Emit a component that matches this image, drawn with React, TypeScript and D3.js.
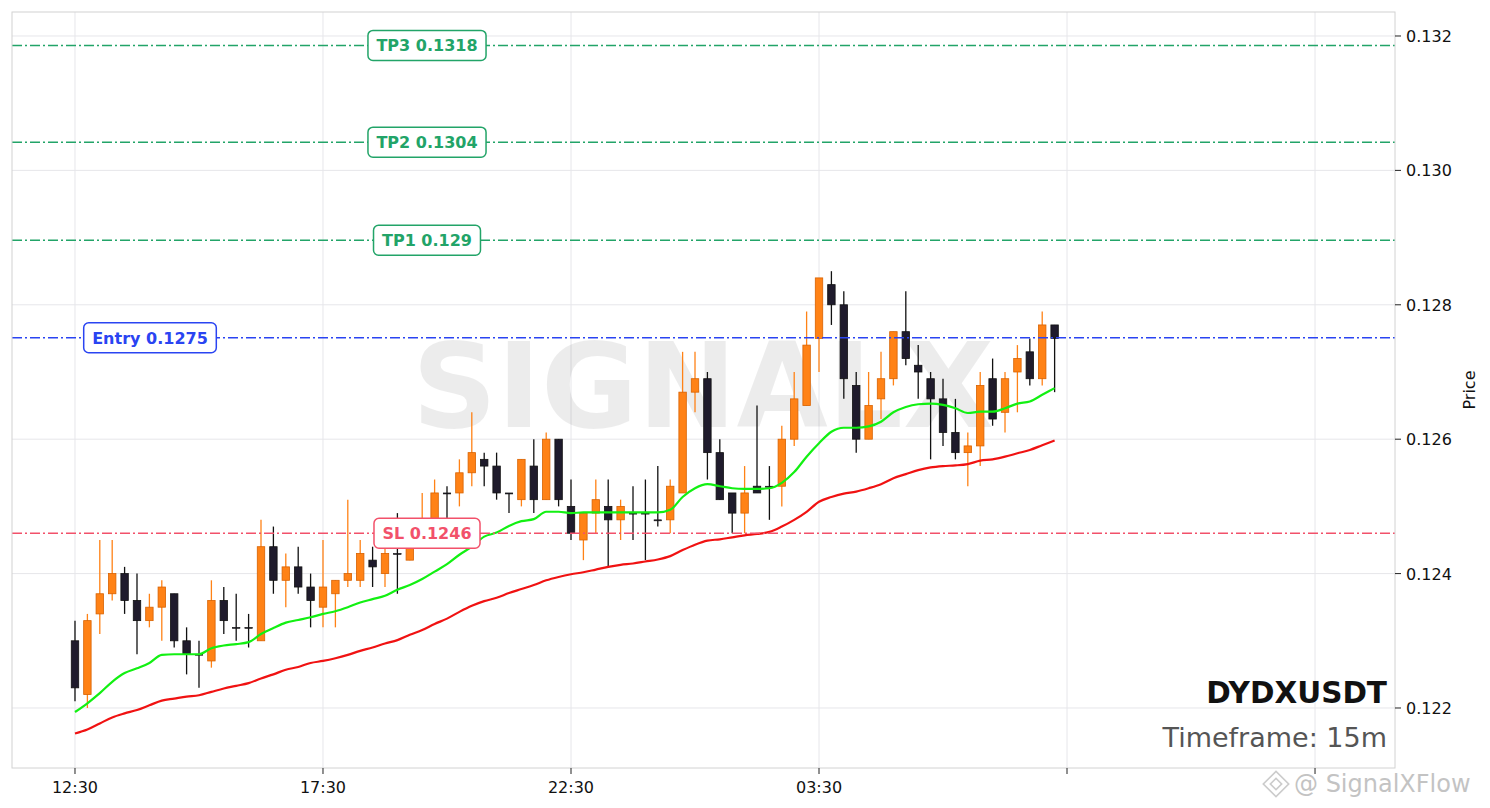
import React from 'react'
import * as d3 from 'd3'

const W = 1490
const H = 808
const plot = { left: 12, right: 1395, top: 12, bottom: 768 }

// 15m candles, 12:30 onwards
const opens = [
  0.1230, 0.1222, 0.1234, 0.1237, 0.1240, 0.1236, 0.1233, 0.1235, 0.1237, 0.1230,
  0.1228, 0.1227, 0.1236, 0.1232, 0.1232, 0.1230, 0.1244, 0.1239, 0.1241, 0.1238,
  0.1235, 0.1237, 0.1239, 0.1239, 0.1242, 0.1240, 0.1243, 0.1242, 0.1245, 0.1247,
  0.1252, 0.1252, 0.1255, 0.1257, 0.1256, 0.1252, 0.1251, 0.1256, 0.1251, 0.1260,
  0.1250, 0.1245, 0.1249, 0.1250, 0.1248, 0.1249, 0.1249, 0.1248, 0.1248, 0.1252,
  0.1267, 0.1269, 0.1258, 0.1252, 0.1249, 0.1253, 0.1253, 0.1253, 0.1260, 0.1265,
  0.1275, 0.1283, 0.1280, 0.1268, 0.1260, 0.1266, 0.1269, 0.1276, 0.1271, 0.1269,
  0.1266, 0.1261, 0.1258, 0.1259, 0.1269, 0.1264, 0.1270, 0.1273, 0.1269, 0.1277,
]
const highs = [
  0.1233, 0.1234, 0.1245, 0.1245, 0.1241, 0.1240, 0.1237, 0.1239, 0.1237, 0.1232,
  0.1230, 0.1239, 0.1238, 0.1237, 0.1234, 0.1248, 0.1247, 0.1243, 0.1244, 0.1240,
  0.1245, 0.1239, 0.1251, 0.1245, 0.1244, 0.1244, 0.1249, 0.1246, 0.1252, 0.1254,
  0.1253, 0.1257, 0.1264, 0.1258, 0.1258, 0.1252, 0.1257, 0.1260, 0.1261, 0.1260,
  0.1254, 0.1249, 0.1254, 0.1254, 0.1251, 0.1253, 0.1254, 0.1256, 0.1254, 0.1273,
  0.1273, 0.1270, 0.1260, 0.1252, 0.1256, 0.1265, 0.1256, 0.1262, 0.1270, 0.1279,
  0.1284, 0.1285, 0.1282, 0.1270, 0.1270, 0.1273, 0.1276, 0.1282, 0.1274, 0.1270,
  0.1269, 0.1266, 0.1261, 0.1270, 0.1272, 0.1270, 0.1274, 0.1275, 0.1279, 0.1277,
]
const lows = [
  0.1221, 0.1220, 0.1231, 0.1236, 0.1234, 0.1228, 0.1232, 0.1230, 0.1229, 0.1225,
  0.1223, 0.1226, 0.1231, 0.1230, 0.1229, 0.1230, 0.1237, 0.1235, 0.1237, 0.1232,
  0.1232, 0.1232, 0.1238, 0.1238, 0.1238, 0.1238, 0.1237, 0.1242, 0.1244, 0.1246,
  0.1248, 0.1250, 0.1253, 0.1253, 0.1251, 0.1249, 0.1250, 0.1249, 0.1251, 0.1250,
  0.1245, 0.1242, 0.1246, 0.1241, 0.1245, 0.1245, 0.1242, 0.1247, 0.1246, 0.1252,
  0.1264, 0.1254, 0.1251, 0.1246, 0.1246, 0.1252, 0.1248, 0.1250, 0.1259, 0.1265,
  0.1270, 0.1277, 0.1266, 0.1258, 0.1260, 0.1263, 0.1268, 0.1271, 0.1266, 0.1257,
  0.1259, 0.1257, 0.1253, 0.1256, 0.1262, 0.1261, 0.1264, 0.1268, 0.1268, 0.1267,
]
const closes = [
  0.1223, 0.1233, 0.1237, 0.1240, 0.1236, 0.1233, 0.1235, 0.1238, 0.1230, 0.1228,
  0.1228, 0.1236, 0.1233, 0.1232, 0.1232, 0.1244, 0.1239, 0.1241, 0.1238, 0.1236,
  0.1238, 0.1239, 0.1240, 0.1243, 0.1241, 0.1243, 0.1243, 0.1244, 0.1247, 0.1252,
  0.1252, 0.1255, 0.1258, 0.1256, 0.1252, 0.1252, 0.1257, 0.1251, 0.1260, 0.1251,
  0.1246, 0.1249, 0.1251, 0.1248, 0.1250, 0.1249, 0.1249, 0.1248, 0.1253, 0.1267,
  0.1269, 0.1258, 0.1251, 0.1249, 0.1252, 0.1252, 0.1253, 0.1260, 0.1266, 0.1274,
  0.1284, 0.1280, 0.1269, 0.1260, 0.1265, 0.1269, 0.1276, 0.1272, 0.1270, 0.1266,
  0.1261, 0.1258, 0.1259, 0.1268, 0.1263, 0.1269, 0.1272, 0.1269, 0.1277, 0.1275,
]
const emaFast = [
  0.12194, 0.12207, 0.12222, 0.12239, 0.12252, 0.12259, 0.12267, 0.12279, 0.12280, 0.12280,
  0.12280, 0.12289, 0.12293, 0.12295, 0.12298, 0.12310, 0.12319, 0.12327, 0.12331, 0.12335,
  0.12340, 0.12344, 0.12350, 0.12357, 0.12362, 0.12367, 0.12376, 0.12383, 0.12392, 0.12403,
  0.12414, 0.12428, 0.12440, 0.12455, 0.12461, 0.12471, 0.12478, 0.12481, 0.12492, 0.12492,
  0.12490, 0.12491, 0.12491, 0.12491, 0.12491, 0.12491, 0.12491, 0.12491, 0.12495, 0.12514,
  0.12527, 0.12533, 0.12530, 0.12527, 0.12526, 0.12526, 0.12527, 0.12535, 0.12551, 0.12574,
  0.12594, 0.12611, 0.12617, 0.12617, 0.12619, 0.12626, 0.12640, 0.12648, 0.12652, 0.12653,
  0.12651, 0.12646, 0.12639, 0.12641, 0.12641, 0.12646, 0.12653, 0.12656, 0.12666, 0.12676,
]
const emaSlow = [
  0.12162, 0.12168, 0.12177, 0.12186, 0.12192, 0.12197, 0.12204, 0.12211, 0.12214, 0.12217,
  0.12219, 0.12224, 0.12229, 0.12233, 0.12237, 0.12244, 0.12250, 0.12257, 0.12261, 0.12267,
  0.12270, 0.12274, 0.12279, 0.12285, 0.12290, 0.12296, 0.12301, 0.12309, 0.12316, 0.12325,
  0.12333, 0.12343, 0.12352, 0.12359, 0.12364, 0.12371, 0.12377, 0.12383, 0.12390, 0.12395,
  0.12399, 0.12402, 0.12406, 0.12410, 0.12413, 0.12415, 0.12418, 0.12421, 0.12426, 0.12435,
  0.12443, 0.12449, 0.12451, 0.12454, 0.12457, 0.12459, 0.12462, 0.12470, 0.12480, 0.12492,
  0.12507, 0.12514, 0.12519, 0.12522, 0.12527, 0.12533, 0.12542, 0.12548, 0.12554, 0.12558,
  0.12560, 0.12561, 0.12563, 0.12568, 0.12570, 0.12574, 0.12579, 0.12584, 0.12591, 0.12598,
]

const xTickIdx = [0, 20, 40, 60, 80, 100]
const xTickLabels = ['12:30', '17:30', '22:30', '03:30', '', '']
const yTicks = [0.122, 0.124, 0.126, 0.128, 0.13, 0.132]

const levelValues = [0.13186, 0.13042, 0.12896, 0.12751, 0.1246]
const levelLabels = ['TP3 0.1318', 'TP2 0.1304', 'TP1 0.129', 'Entry 0.1275', 'SL 0.1246']
const levelColors = ['#22a468', '#22a468', '#22a468', '#2a44f2', '#f2516a']

const symbol = 'DYDXUSDT'
const timeframe = 'Timeframe: 15m'

const FONT = 'DejaVu Sans, sans-serif'

let ctx: CanvasRenderingContext2D | null = null
const textWidth = (t: string, font: string) => {
  if (!ctx) ctx = document.createElement('canvas').getContext('2d')
  if (!ctx) return t.length * 9
  ctx.font = font
  return ctx.measureText(t).width
}

export default function App() {
  const x = d3.scaleLinear().domain([-5.08, 106.45]).range([plot.left, plot.right])
  const y = d3.scaleLinear().domain([0.121107, 0.132357]).range([plot.bottom, plot.top])
  const bw = (x(1) - x(0)) * 0.6

  const line = d3
    .line<number>()
    .x((_, i) => x(i))
    .y((d) => y(d))
    .curve(d3.curveMonotoneX)

  const up = '#ff8216'
  const upEdge = '#d86200'
  const down = '#1f1b2c'

  // label anchors: TP/SL centered, entry further left
  const labelCx = [427, 427, 427, 150, 427]

  return (
    <svg
      width={W}
      height={H}
      style={{ position: 'absolute', left: 0, top: 0, fontFamily: FONT }}
    >
      <rect width={W} height={H} fill="#fff" />
      <defs>
        <clipPath id="plotclip">
          <rect x={plot.left} y={plot.top} width={plot.right - plot.left} height={plot.bottom - plot.top} />
        </clipPath>
      </defs>

      {/* grid */}
      <g stroke="#e6e6ea" strokeWidth={1}>
        {yTicks.map((t) => (
          <line key={t} x1={plot.left} x2={plot.right} y1={y(t)} y2={y(t)} />
        ))}
        {xTickIdx.map((t) => (
          <line key={t} x1={x(t)} x2={x(t)} y1={plot.top} y2={plot.bottom} />
        ))}
      </g>

      {/* watermark */}
      <text
        x={703}
        y={427}
        textAnchor="middle"
        fontSize={118}
        fontWeight="bold"
        fill="#000"
        fillOpacity={0.075}
      >
        SIGNALX
      </text>

      <g clipPath="url(#plotclip)">
        {/* candles */}
        {opens.map((o, i) => {
          const c = closes[i]
          const bull = c > o
          const top = y(Math.max(o, c))
          const bot = y(Math.min(o, c))
          return (
            <g key={i}>
              <line
                x1={x(i)}
                x2={x(i)}
                y1={y(highs[i])}
                y2={y(lows[i])}
                stroke={bull ? up : '#111'}
                strokeWidth={1.3}
              />
              <rect
                x={x(i) - bw / 2}
                y={top}
                width={bw}
                height={Math.max(bot - top, 1)}
                fill={bull ? up : down}
                stroke={bull ? upEdge : '#111'}
                strokeWidth={bot - top < 1 ? 0.6 : 0.8}
              />
            </g>
          )
        })}

        {/* moving averages */}
        <path d={line(emaSlow) ?? ''} fill="none" stroke="#f01212" strokeWidth={2.2} />
        <path d={line(emaFast) ?? ''} fill="none" stroke="#12f012" strokeWidth={2.2} />

        {/* levels */}
        {levelValues.map((v, i) => (
          <line
            key={i}
            x1={plot.left}
            x2={plot.right}
            y1={y(v)}
            y2={y(v)}
            stroke={levelColors[i]}
            strokeWidth={1.5}
            strokeDasharray="10,3,2,3"
          />
        ))}
      </g>

      {/* level labels */}
      {levelValues.map((v, i) => {
        const font = `bold 16px ${FONT}`
        const tw = textWidth(levelLabels[i], font)
        const w = tw + 17
        const h = 30
        return (
          <g key={i}>
            <rect
              x={labelCx[i] - w / 2}
              y={y(v) - h / 2}
              width={w}
              height={h}
              rx={5}
              fill="#fff"
              stroke={levelColors[i]}
              strokeWidth={1.5}
            />
            <text
              x={labelCx[i]}
              y={y(v) + 6}
              textAnchor="middle"
              fontSize={16}
              fontWeight="bold"
              fill={levelColors[i]}
            >
              {levelLabels[i]}
            </text>
          </g>
        )
      })}

      {/* frame */}
      <rect
        x={plot.left}
        y={plot.top}
        width={plot.right - plot.left}
        height={plot.bottom - plot.top}
        fill="none"
        stroke="#d2d2d2"
        strokeWidth={1}
      />

      {/* y axis (right) */}
      {yTicks.map((t) => (
        <g key={t}>
          <line x1={plot.right} x2={plot.right + 6} y1={y(t)} y2={y(t)} stroke="#222" strokeWidth={1} />
          <text x={plot.right + 11} y={y(t) + 6} fontSize={16} fill="#111">
            {t.toFixed(3)}
          </text>
        </g>
      ))}
      <text
        transform={`translate(1475, ${(plot.top + plot.bottom) / 2}) rotate(-90)`}
        textAnchor="middle"
        fontSize={16}
        fill="#111"
      >
        Price
      </text>

      {/* x axis */}
      {xTickIdx.map((t, i) => (
        <g key={t}>
          <line x1={x(t)} x2={x(t)} y1={plot.bottom} y2={plot.bottom + 6} stroke="#222" strokeWidth={1} />
          <text x={x(t)} y={plot.bottom + 25} textAnchor="middle" fontSize={16} fill="#111">
            {xTickLabels[i]}
          </text>
        </g>
      ))}

      {/* symbol */}
      <text x={1387} y={703} textAnchor="end" fontSize={29.5} fontWeight="bold" fill="#111">
        {symbol}
      </text>
      <text x={1387} y={747} textAnchor="end" fontSize={27} fill="#555">
        {timeframe}
      </text>

      {/* corner watermark */}
      <g opacity={0.5}>
        <g transform="translate(1276, 784) rotate(45)" fill="none" stroke="#999" strokeWidth={1.6}>
          <rect x={-4} y={-4} width={8} height={8} />
          <rect x={-9} y={-9} width={18} height={18} />
        </g>
        <text x={1294} y={792} fontSize={24} fill="#888">
          @ SignalXFlow
        </text>
      </g>
    </svg>
  )
}
